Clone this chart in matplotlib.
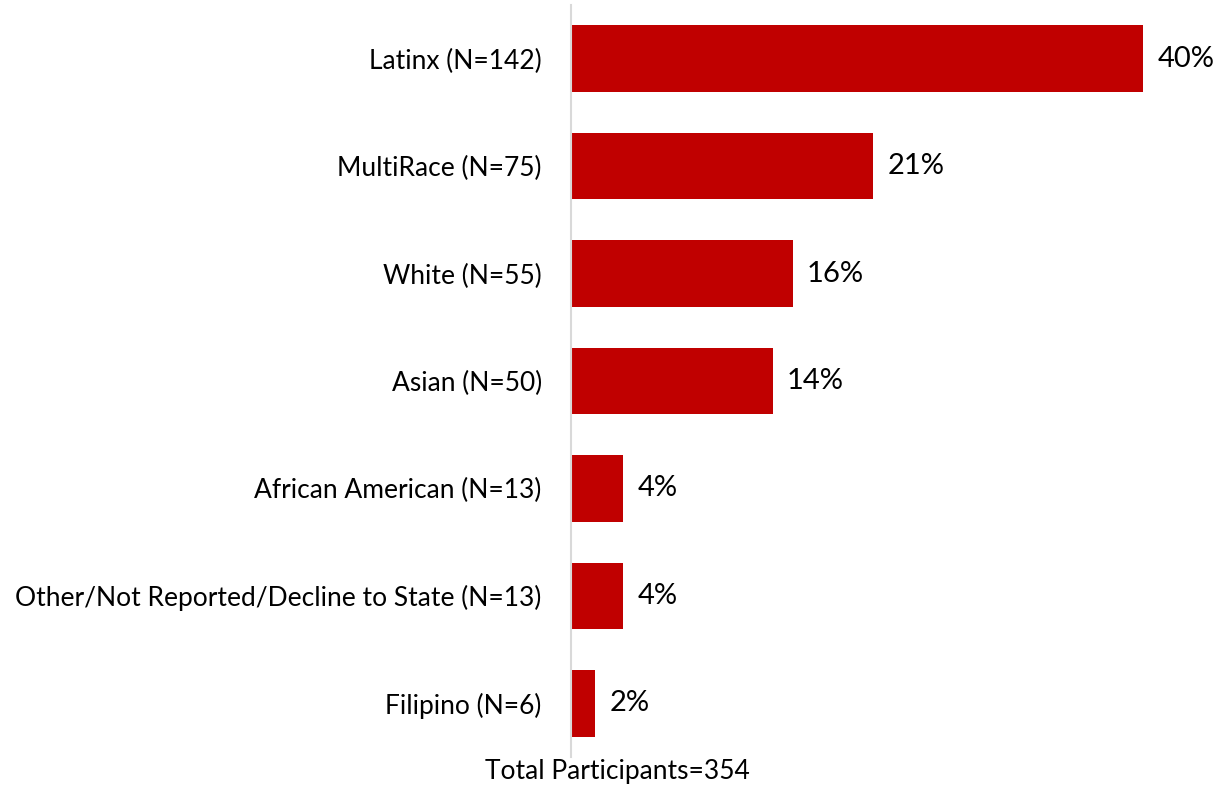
import matplotlib.pyplot as plt

# data
groups = ['Latinx', 'MultiRace', 'White', 'Asian', 'African American',
          'Other/Not Reported/Decline to State', 'Filipino']
counts = [142, 75, 55, 50, 13, 13, 6]
total = 354

shares = [c / total * 100 for c in counts]
labels = ['%s (N=%d)' % (g, c) for g, c in zip(groups, counts)]

plt.rcParams['font.family'] = ['Lato', 'DejaVu Sans']

fig = plt.figure(figsize=(12.23, 7.91), dpi=100)
ax = fig.add_axes([571 / 1223, 1 - 757 / 791, 1 - 571 / 1223, 752 / 791])

y = list(range(len(groups)))
ax.barh(y, shares, height=0.62, color='#C00000')
for yi, s in zip(y, shares):
    ax.text(s + 1.0, yi, '%d%%' % round(s), va='center', ha='left', fontsize=21)

ax.set_ylim(len(groups) - 0.5, -0.5)
ax.set_xlim(0, 45.7)
ax.set_yticks(y)
ax.set_yticklabels(labels, fontsize=19)
ax.tick_params(axis='y', length=0, pad=21)
ax.set_xticks([])
for side in ['top', 'right', 'bottom']:
    ax.spines[side].set_visible(False)
ax.spines['left'].set_color('#D9D9D9')
ax.spines['left'].set_linewidth(1.5)

fig.text(617 / 1223, 1 - 772 / 791, 'Total Participants=%d' % total,
         ha='center', va='center', fontsize=19)

fig.savefig('out.png', dpi=100)
